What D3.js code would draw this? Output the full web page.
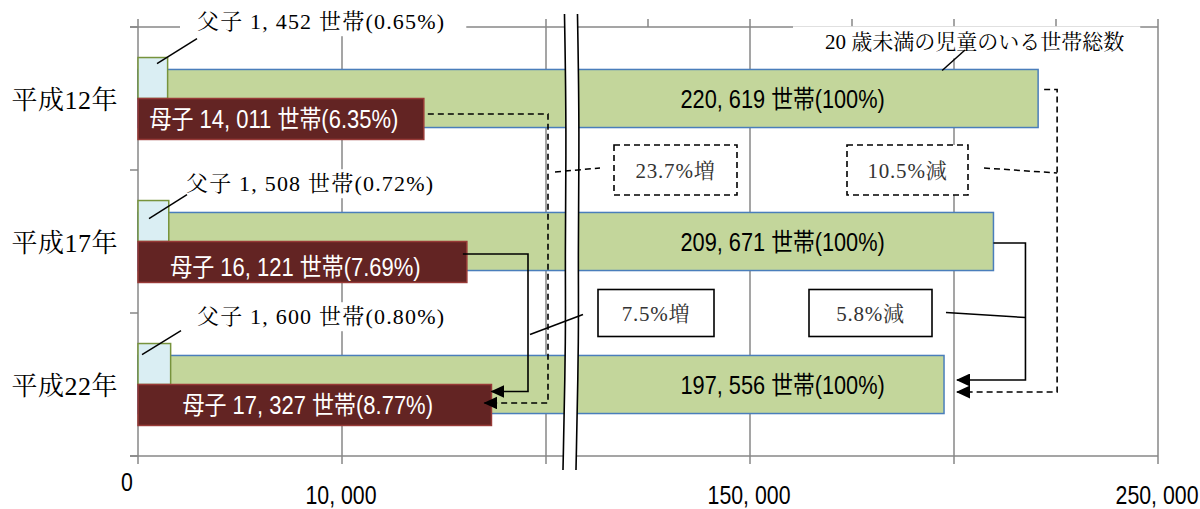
<!DOCTYPE html>
<html>
<head>
<meta charset="utf-8">
<script src="https://cdn.jsdelivr.net/npm/d3@7"></script>
<style>
  body { margin: 0; background: #fff; }
</style>
</head>
<body>
<svg id="chart" width="1200" height="509"></svg>
<script>
// data
const years = ["平成12年", "平成17年", "平成22年"];
const totalHouseholds = [220619, 209671, 197556];
const fatherHouseholds = [1452, 1508, 1600];
const motherHouseholds = [14011, 16121, 17327];
const fatherPct = ["0.65", "0.72", "0.80"];
const motherPct = ["6.35", "7.69", "8.77"];
const totalPct = ["100", "100", "100"];
const gridValues = [0, 10000, 20000, 150000, 200000, 250000];
const axisLabelValues = [0, 10000, 150000, 250000];
const topTickValues = [0, 5000, 10000, 15000, 20000, 125000, 150000, 175000, 200000, 225000, 250000];
const totalLabel = "20 歳未満の児童のいる世帯総数";

const W = 1200, H = 509;
const margin = {top: 27, right: 42, bottom: 53, left: 138};
const plotW = W - margin.left - margin.right;
const plotB = H - margin.bottom;

const serif = "'Liberation Serif', 'Noto Serif CJK JP', 'Noto Sans CJK JP', serif";
const gothic = "'Liberation Sans', 'Noto Sans CJK JP', sans-serif";
const gridColor = "#878787";

const svg = d3.select("#chart");
svg.append("rect").attr("width", W).attr("height", H).attr("fill", "#fff");

// broken axis: 0-20,000 on the left, 100,000-250,000 on the right
const x = d3.scaleLinear()
    .domain([0, 20000, 100000, 250000])
    .range([margin.left, margin.left + plotW * 0.4, margin.left + plotW * 0.4, margin.left + plotW]);

const yCluster = d3.scaleBand().domain(years).range([margin.top, plotB])
    .paddingInner(0.427).paddingOuter(0.2135);
const ySub = d3.scaleBand().domain(["father", "mother"]).range([0, yCluster.bandwidth()]);
const yTotal = d3.scaleBand().domain(years).range([margin.top, plotB])
    .paddingInner(0.594).paddingOuter(0.297);
const step = yCluster.step();

const fmt = v => d3.format(",")(v).replace(",", ", ");

// narrow gothic text (squeezed sideways)
function narrowText(parent, tx, ty, str, opts) {
    const g = parent.append("g")
        .attr("transform", `translate(${tx},${ty}) scale(${opts.sx || 0.87},1)`);
    return g.append("text")
        .attr("dy", "0.35em")
        .attr("text-anchor", opts.anchor || "middle")
        .attr("font-family", gothic)
        .attr("font-size", opts.size || 25)
        .attr("fill", opts.fill || "#000")
        .text(str);
}

// arrow head
svg.append("defs").append("marker")
    .attr("id", "arr")
    .attr("viewBox", "0 0 14 13")
    .attr("refX", 13).attr("refY", 6.5)
    .attr("markerWidth", 14).attr("markerHeight", 13)
    .attr("markerUnits", "userSpaceOnUse")
    .attr("orient", "auto")
  .append("path")
    .attr("d", "M0,0L14,6.5L0,13Z")
    .attr("fill", "#000");

// GRID + AXES
const grid = svg.append("g").attr("stroke", gridColor).attr("stroke-width", 1.5);
grid.selectAll(".gl").data(gridValues).enter().append("line")
    .attr("x1", d => x(d)).attr("x2", d => x(d))
    .attr("y1", margin.top).attr("y2", plotB + 8);
grid.selectAll(".tt").data(topTickValues).enter().append("line")
    .attr("x1", d => x(d)).attr("x2", d => x(d))
    .attr("y1", margin.top - 8).attr("y2", margin.top);
grid.append("line").attr("x1", x(0) - 8).attr("x2", x(250000))
    .attr("y1", margin.top).attr("y2", margin.top);
grid.append("line").attr("x1", x(0) - 8).attr("x2", x(250000))
    .attr("y1", plotB).attr("y2", plotB);
grid.selectAll(".lt").data(d3.range(years.length + 1)).enter().append("line")
    .attr("x1", x(0) - 8).attr("x2", x(0))
    .attr("y1", d => margin.top + d * step).attr("y2", d => margin.top + d * step);

// x labels
axisLabelValues.forEach(d => {
    narrowText(svg, d === 0 ? x(d) - 11 : x(d) - 1, d === 0 ? 482 : 495, fmt(d), {size: 26, sx: 0.82});
});

// category labels
svg.selectAll(".yl").data(years).enter().append("text")
    .attr("x", x(0) - 20)
    .attr("y", d => yTotal(d) + yTotal.bandwidth() / 2 + 1)
    .attr("dy", "0.35em")
    .attr("text-anchor", "end")
    .attr("font-family", serif)
    .attr("font-size", 26)
    .attr("letter-spacing", 0.5)
    .text(d => d);

// BARS
svg.selectAll(".tot").data(years).enter().append("rect")
    .attr("x", x(0))
    .attr("y", d => yTotal(d))
    .attr("width", (d, i) => x(totalHouseholds[i]) - x(0))
    .attr("height", yTotal.bandwidth())
    .attr("fill", "#c3d69b")
    .attr("stroke", "#4a7ebb").attr("stroke-width", 1.5);

svg.selectAll(".fa").data(years).enter().append("rect")
    .attr("x", x(0))
    .attr("y", d => yCluster(d) + ySub("father"))
    .attr("width", (d, i) => x(fatherHouseholds[i]) - x(0))
    .attr("height", ySub.bandwidth())
    .attr("fill", "#daeef3")
    .attr("stroke", "#77933c").attr("stroke-width", 1.5);

svg.selectAll(".mo").data(years).enter().append("rect")
    .attr("x", x(0))
    .attr("y", d => yCluster(d) + ySub("mother"))
    .attr("width", (d, i) => x(motherHouseholds[i]) - x(0))
    .attr("height", ySub.bandwidth())
    .attr("fill", "#632423")
    .attr("stroke", "#983a37").attr("stroke-width", 1.5);

// BREAK
const bx = x(106000);
const wave = [[14, -6], [130, -4], [260, -5.5], [330, -4.5], [470, -7.5]];
const left = wave.map(p => [bx + p[1], p[0]]);
const right = wave.map(p => [bx + p[1] + 13, p[0]]);
const curve = d3.line().curve(d3.curveBasis);
svg.append("path")
    .attr("d", curve(left) + "L" + curve(right.slice().reverse()).slice(1) + "Z")
    .attr("fill", "#fff");
[left, right].forEach(pts => {
    svg.append("path").attr("d", curve(pts))
        .attr("fill", "none").attr("stroke", "#000").attr("stroke-width", 1.6);
});

// LABELS
const yMid = i => yTotal(years[i]) + yTotal.bandwidth() / 2;
const yMother = i => yCluster(years[i]) + ySub("mother") + ySub.bandwidth() / 2;
const yFatherTop = i => yCluster(years[i]) + ySub("father");

// value labels on the total bars
years.forEach((d, i) => {
    narrowText(svg, x(158000), yMid(i) + 1,
        `${fmt(totalHouseholds[i])} 世帯(${totalPct[i]}%)`, {size: 25, sx: 0.87});
});

// mother labels
years.forEach((d, i) => {
    narrowText(svg, (x(0) + x(motherHouseholds[i])) / 2 - 7, yMother(i) + (i === 1 ? 5 : 0),
        `母子 ${fmt(motherHouseholds[i])} 世帯(${motherPct[i]}%)`, {size: 25, sx: 0.88, fill: "#fff"});
});

// father labels, with white boxes and leader lines
const fatherLayout = [
    {tx: 197, dy: -36, lx1: 197, ly1: -19, lx2: 157, ly2: 6},
    {tx: 186, dy: -17, lx1: 187, ly1: -6, lx2: 149, ly2: 18},
    {tx: 197, dy: -27, lx1: 181, ly1: -13, lx2: 142, ly2: 11}
];
years.forEach((yr, i) => {
    const L = fatherLayout[i];
    const top = yFatherTop(i);
    const gL = svg.append("g");
    const bg = gL.append("rect").attr("fill", "#fff");
    const t = gL.append("text")
        .attr("x", L.tx).attr("y", top + L.dy)
        .attr("dy", "0.35em")
        .attr("font-family", serif)
        .attr("font-size", 22)
        .attr("letter-spacing", 1.2)
        .text(`父子 ${fmt(fatherHouseholds[i])} 世帯(${fatherPct[i]}%)`);
    const bb = t.node().getBBox();
    bg.attr("x", bb.x - 17).attr("y", bb.y - 2)
      .attr("width", bb.width + 38).attr("height", bb.height + 4);
    svg.append("line")
        .attr("x1", L.lx1).attr("y1", top + L.ly1)
        .attr("x2", L.lx2).attr("y2", top + L.ly2)
        .attr("stroke", "#000").attr("stroke-width", 1.5);
});

// total label
const tg = svg.append("g");
const tbg = tg.append("rect").attr("fill", "#fff");
const tt = tg.append("text")
    .attr("x", 825).attr("y", 42).attr("dy", "0.35em")
    .attr("font-family", serif).attr("font-size", 21)
    .text(totalLabel);
const tbb = tt.node().getBBox();
tbg.attr("x", tbb.x - 32).attr("y", tbb.y - 4).attr("width", tbb.width + 48).attr("height", tbb.height + 8);
svg.append("line")
    .attr("x1", 965).attr("y1", 50).attr("x2", x(totalHouseholds[0]) - 96).attr("y2", yTotal(years[0]) + 1)
    .attr("stroke", "#000").attr("stroke-width", 1.5);

// CHANGE ANNOTATIONS
const xm = motherHouseholds.map(v => x(v));
const xt = totalHouseholds.map(v => x(v));
const xl = x(20000);

const conn = svg.append("g").attr("fill", "none").attr("stroke", "#000").attr("stroke-width", 1.6);
// mother 12 -> 22 (dashed)
conn.append("path")
    .attr("d", `M${xm[0] + 4},${yMother(0) - 5}H${xl + 2}V${yMother(2) - 2}H${xm[2] - 7}`)
    .attr("stroke-dasharray", "6,4").attr("marker-end", "url(#arr)");
// mother 17 -> 22
conn.append("path")
    .attr("d", `M${xm[1] - 4},${yMother(1) - 8}H${xl - 18}V${yMother(2) - 13.5}H${xm[2]}`)
    .attr("marker-end", "url(#arr)");
// total 17 -> 22
conn.append("path")
    .attr("d", `M${xt[1]},${yMid(1) + 1.5}H${xt[1] + 32}V${yMid(2) - 4.5}H${xt[2] + 13}`)
    .attr("marker-end", "url(#arr)");
// total 12 -> 22 (dashed)
conn.append("path")
    .attr("d", `M${xt[0] + 6},${yMid(0) - 9}H${xt[0] + 19}V${yMid(2) + 7.5}H${xt[2] + 13}`)
    .attr("stroke-dasharray", "6,4").attr("marker-end", "url(#arr)");

const pctChange = (a, b) => {
    const c = (b / a - 1) * 100;
    return d3.format(".1f")(Math.abs(c)) + "%" + (c >= 0 ? "増" : "減");
};
const boxes = [
    {text: pctChange(motherHouseholds[0], motherHouseholds[2]), x0: 614, x1: 737, row: 1, dashed: true,
     lead: [[xl + 9, 2], [600, -2]]},
    {text: pctChange(totalHouseholds[0], totalHouseholds[2]), x0: 847, x1: 968, row: 1, dashed: true,
     lead: [[984, -2], [xt[0] + 19, 3]]},
    {text: pctChange(motherHouseholds[1], motherHouseholds[2]), x0: 598, x1: 714, row: 2, dashed: false,
     lead: [[xl - 16, 21.5], [583, 1.5]]},
    {text: pctChange(totalHouseholds[1], totalHouseholds[2]), x0: 809, x1: 932, row: 2, dashed: false,
     lead: [[946, -0.5], [xt[1] + 32, 4.5]]}
];
boxes.forEach(b => {
    const cy = margin.top + b.row * step;
    const h = b.dashed ? 50 : 47;
    svg.append("rect")
        .attr("x", b.x0).attr("y", cy - (b.dashed ? 25 : 23.5))
        .attr("width", b.x1 - b.x0).attr("height", h)
        .attr("fill", "#fff").attr("stroke", "#000").attr("stroke-width", 1.6)
        .attr("stroke-dasharray", b.dashed ? "6,4" : null);
    svg.append("text")
        .attr("x", (b.x0 + b.x1) / 2).attr("y", cy + 1).attr("dy", "0.35em")
        .attr("text-anchor", "middle")
        .attr("font-family", serif).attr("font-size", 21)
        .attr("letter-spacing", 0.8)
        .attr("fill", "#333")
        .text(b.text);
    svg.append("line")
        .attr("x1", b.lead[0][0]).attr("y1", cy + b.lead[0][1])
        .attr("x2", b.lead[1][0]).attr("y2", cy + b.lead[1][1])
        .attr("stroke", "#000").attr("stroke-width", 1.5)
        .attr("stroke-dasharray", b.dashed ? "6,4" : null);
});
</script>
</body>
</html>
